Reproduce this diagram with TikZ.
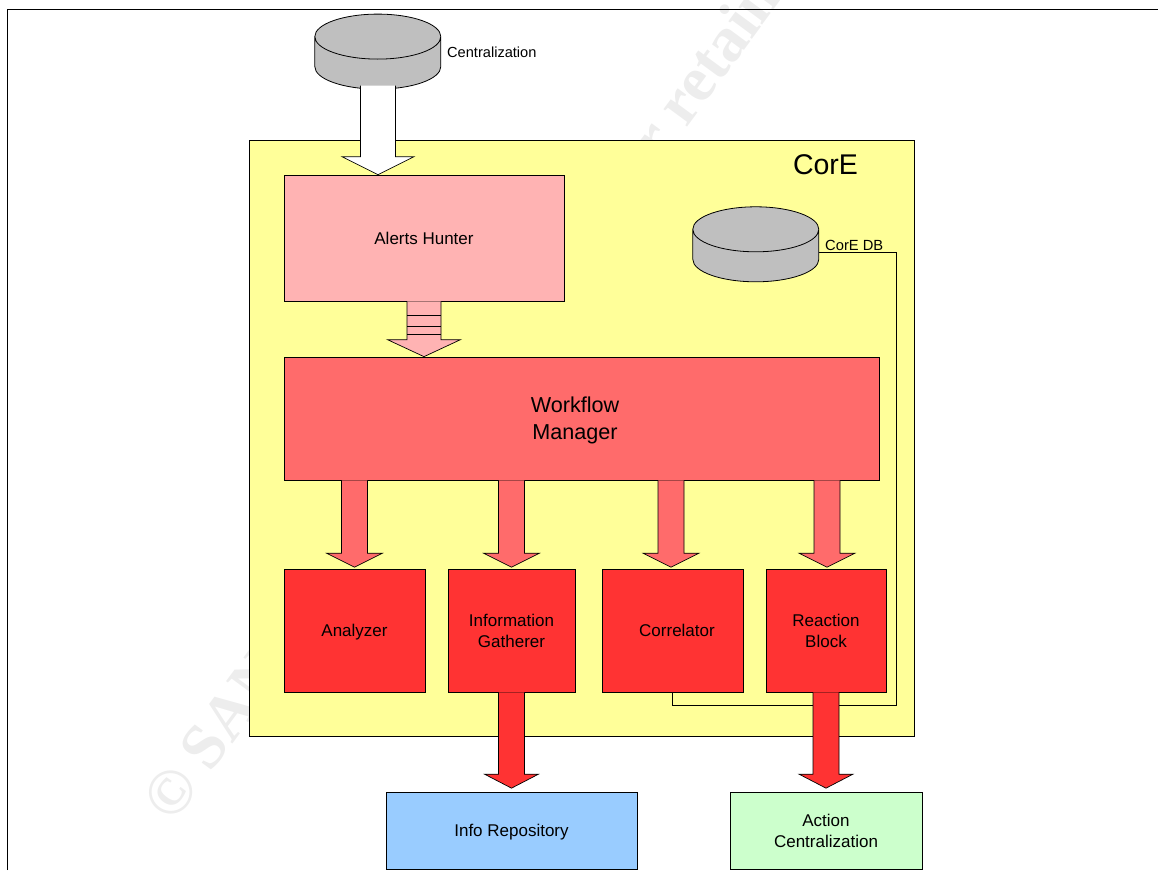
\documentclass[tikz,border=0pt]{standalone}
\usepackage{fontspec}
\setmainfont{Liberation Sans}
\newfontfamily\markfont{Liberation Serif}
\usetikzlibrary{calc}

\newcommand{\blockarrow}[6]{
    \coordinate (tip) at (#2);
    \coordinate (tail) at (#1 -| tip);
    \filldraw[blockline, fill=#3] ($(tail)+(-#4,0)$) -- ($(tip)+(-#4,-#6)$) -- ($(tip)+(-#5,-#6)$) -- (tip)
        -- ($(tip)+(#5,-#6)$) -- ($(tip)+(#4,-#6)$) -- ($(tail)+(#4,0)$);
}
\newcommand{\storedisk}[1]{
    \filldraw[diskline] ($(#1.north west)+(0,22.5)$) -- ++(0,30) arc[start angle=180, end angle=360, x radius=63pt, y radius=22.5pt]
        -- ++(0,-30) arc[start angle=0, end angle=180, x radius=63pt, y radius=22.5pt]
        arc[start angle=180, end angle=360, x radius=63pt, y radius=22.5pt];
}

\definecolor{coreyellow}{HTML}{FFFF99}
\definecolor{hunterpink}{HTML}{FFB3B3}
\definecolor{managerred}{HTML}{FF6B6B}
\definecolor{blockred}{HTML}{FF3333}
\definecolor{repoblue}{HTML}{99CCFF}
\definecolor{actiongreen}{HTML}{CCFFCC}

\begin{document}
\begin{tikzpicture}[x=1pt, y=-1pt,
        blockline/.style={draw=black, line width=0.7pt, line join=miter},
        diskline/.style={draw=black, line width=0.8pt, fill=black!25},
        box/.style={draw=black, line width=0.7pt, rectangle, inner sep=0pt, align=center,
            font=\fontsize{17}{21}\selectfont},
        store/.style={rectangle, minimum width=126pt, minimum height=75pt, inner sep=0pt},
        note/.style={inner sep=0pt, align=center}]
    \useasboundingbox (0,0) rectangle (1158,870);

    \node[rotate=53.6, anchor=base west, inner sep=0pt, text=black!7, font=\markfont\bfseries\fontsize{64}{64}\selectfont]
        (mark) at (173,825) {© SANS Institute 2003, Author retains full rights.};
    \draw[line width=1.2pt] (7.3,870) -- (7.3,9.5) -- (1158,9.5);

    \node[box, fill=coreyellow, minimum width=665pt, minimum height=596pt] (core) at (581.5,438) {};
    \node[note, font=\fontsize{28.5}{30}\selectfont] (corename) at (825.5,165) {CorE};

    \node[box, fill=hunterpink, minimum width=280pt, minimum height=126pt] (hunter) at (424,238) {Alerts Hunter};
    \node[box, fill=managerred, minimum width=595pt, minimum height=123pt,
        label={[xshift=-6.5pt, yshift=-2pt, align=center, font=\fontsize{21.6}{27}\selectfont]center:Workflow\\Manager}] (manager) at (581.5,418.5) {};
    \node[box, fill=blockred, minimum width=141pt, minimum height=123pt, text depth=0pt] (analyzer) at (354.5,630.5) {Analyzer};
    \node[box, fill=blockred, minimum width=127pt, minimum height=123pt] (gatherer) at (511.5,630.5) {Information\\Gatherer};
    \node[box, fill=blockred, minimum width=141pt, minimum height=123pt] (correlator) at (672.5,630.5) {\hspace*{9pt}Correlator};
    \node[box, fill=blockred, minimum width=120pt, minimum height=123pt] (reaction) at (826,630.5) {Reaction\\Block};
    \node[box, fill=repoblue, minimum width=251pt, minimum height=77pt, text depth=0pt] (repository) at (511.5,830.5) {Info Repository};
    \node[box, fill=actiongreen, minimum width=192pt, minimum height=77pt] (action) at (826,830.5) {Action\\Centralization};

    \node[store] (central) at (378,51.8) {};
    \storedisk{central}
    \node[note, anchor=west, font=\fontsize{14.6}{17}\selectfont] (centralname) at (447,52) {Centralization};
    \node[store] (coredb) at (756,244.5) {};
    \storedisk{coredb}
    \node[note, anchor=west, font=\fontsize{14.7}{17}\selectfont] (coredbname) at (825,245) {CorE DB};

    \coordinate (dbport) at (coredb.east |- 0,252.3);
    \coordinate (dbturn) at (896,252.3);
    \draw[line width=0.7pt] (correlator.south) -- ++(0,12.5) -| (dbturn) -- (dbport);

    \blockarrow{[yshift=4pt]central.south}{central.south |- hunter.north}{white}{17.5}{36}{18}
    \blockarrow{hunter.south}{hunter.south |- manager.north}{hunterpink}{17}{36.5}{17}
    \foreach \level in {14,25,33}
        \draw[line width=0.7pt] ($(tail)+(-17,\level)$) -- ($(tail)+(17,\level)$);
    \foreach \target/\nudge in {analyzer/0,gatherer/0,correlator/-1.5,reaction/1} {
        \blockarrow{manager.south}{[shift={(\nudge,-1.5)}]\target.north}{managerred}{13}{28}{14}
    }
    \blockarrow{gatherer.south}{[yshift=3.5pt]repository.north}{blockred}{13}{27}{14}
    \blockarrow{reaction.south}{[yshift=3.5pt]action.north}{blockred}{13}{27}{14}
\end{tikzpicture}
\end{document}
